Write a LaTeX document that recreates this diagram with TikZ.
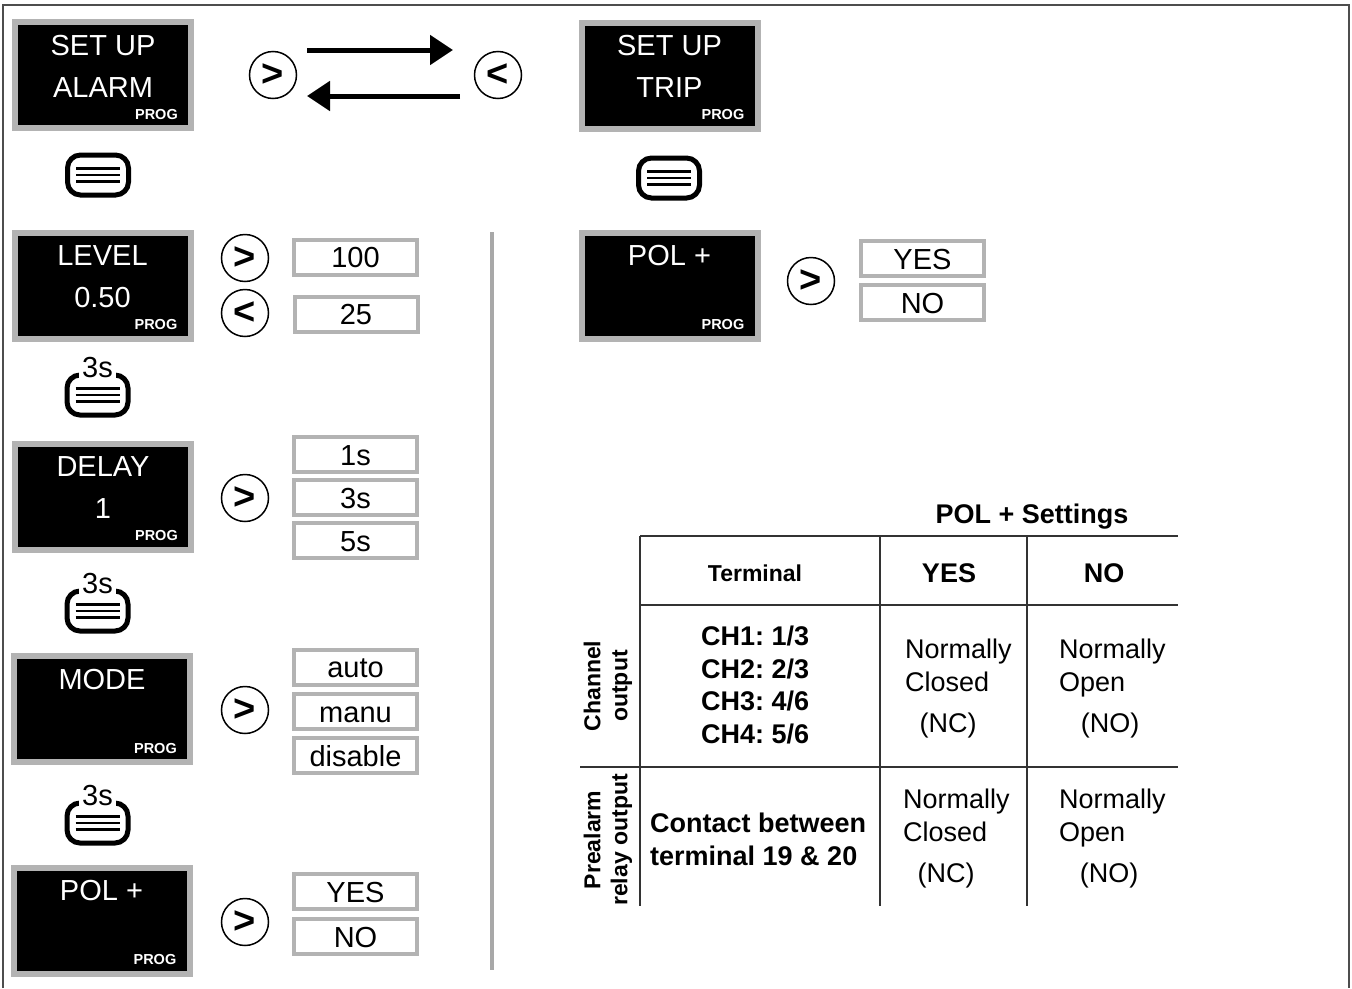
\documentclass[tikz,border=0pt]{standalone}
\usepackage{fontspec}
\setmainfont{Liberation Sans}
\usetikzlibrary{arrows.meta,calc}
\definecolor{boxgray}{HTML}{B3B3B3}
\definecolor{framegray}{HTML}{4D4D4D}
\definecolor{sepgray}{HTML}{A8A8A8}
\definecolor{tabline}{HTML}{333333}
\newcommand{\fs}[1]{\fontsize{#1}{#1}\selectfont}
\frenchspacing

\tikzset{
 disp/.style={rectangle, fill=black, draw=boxgray, line width=6pt, minimum width=176pt, minimum height=106pt, inner sep=0pt, outer sep=0pt},
 dtext/.style={text=white, font=\fs{29}, inner sep=0pt, anchor=base},
 prog/.style={text=white, font=\bfseries\fs{14.5}, inner sep=0pt, anchor=base east},
 valbox/.style={rectangle, draw=boxgray, fill=white, line width=4pt, minimum width=123pt, minimum height=35pt, inner sep=0pt, text height=21pt, text depth=0pt, font=\fs{29}},
 btn/.style={circle, draw=black, line width=1.5pt, minimum size=47pt, inner sep=0pt, font=\bfseries\fs{38}},
 menubtn/.style={rectangle, rounded corners=13pt, draw=black, line width=5pt, minimum width=61pt, minimum height=40pt, inner sep=0pt},
 menuline/.style={draw=black, line width=2.6pt},
 holdtxt/.style={fill=white, inner xsep=3pt, inner ysep=1pt, font=\fs{29}},
 bigarrow/.style={draw=black, line width=5pt, -{Triangle[length=23pt,width=29pt]}},
 frame/.style={draw=framegray, line width=1.6pt},
 sepline/.style={draw=sepgray, line width=4pt},
 tline/.style={draw=tabline, line width=1.5pt},
 ttext/.style={inner sep=0pt, font=\fs{27}},
 tbold/.style={inner sep=0pt, font=\bfseries\fs{27}},
}

\newcommand{\dispnode}[5]{%
 \node[disp] (#1) at (#2,#3) {};
 \node[dtext] (#1-a) at (#2,#3-20) {#4};
 \if\relax\detokenize{#5}\relax\else
 \node[dtext] (#1-b) at (#2,#3+22) {#5};\fi
 \node[prog] (#1-p) at (#2+75,#3+44) {PROG};
}
\newcommand{\menuicon}[3]{%
 \node[menubtn] (#1) at (#2,#3) {};
 \draw[menuline] ($(#1.center)+(-22,-6.5)$) -- ++(44,0);
 \draw[menuline] ($(#1.center)+(-22,0)$) -- ++(44,0);
 \draw[menuline] ($(#1.center)+(-22,6.5)$) -- ++(44,0);
}
\newcommand{\holdicon}[3]{%
 \menuicon{#1}{#2}{#3}
 \node[holdtxt] (#1-t) at (#2,#3-27) {3s};
}

\begin{document}
\begin{tikzpicture}[x=1pt,y=-1pt]
\useasboundingbox (0,0) rectangle (1352,988);
% outer frame
\draw[frame] (3,988) -- (3,5) -- (1349,5) -- (1349,988);

% ---------- top row ----------
\dispnode{alarm}{103}{75}{SET UP}{ALARM}
\dispnode{trip}{669.5}{75.5}{SET UP}{TRIP}
\node[btn] (bnext) at (273,75) {>};
\node[btn] (bprev) at (498,75) {<};
\coordinate (a1s) at (307,50);
\coordinate (a1e) at (453,50);
\coordinate (a2s) at (460,96);
\coordinate (a2e) at (307,96);
\draw[bigarrow] (a1s) -- (a1e);
\draw[bigarrow] (a2s) -- (a2e);
\menuicon{m1}{98}{175}
\menuicon{m2}{669}{178}

% ---------- left column ----------
\dispnode{level}{102.5}{285.5}{LEVEL}{0.50}
\node[btn] (lvup) at (245,258) {>};
\node[btn] (lvdn) at (245,313) {<};
\node[valbox] (v100) at (355.5,257) {100};
\node[valbox] (v25) at (356,314) {25};
\holdicon{h1}{97.5}{395}

\dispnode{delay}{103}{496.5}{DELAY}{1}
\node[btn] (dlb) at (245,498) {>};
\node[valbox] (d1) at (355.5,454.5) {1s};
\node[valbox] (d3) at (355.5,497.5) {3s};
\node[valbox] (d5) at (355.5,540.5) {5s};
\holdicon{h2}{97.5}{611}

\dispnode{mode}{102}{709}{MODE}{}
\node[btn] (mdb) at (245,710) {>};
\node[valbox] (mauto) at (355.5,667) {auto};
\node[valbox] (mmanu) at (355.5,711.5) {manu};
\node[valbox] (mdis) at (355.5,755.5) {disable};
\holdicon{h3}{97.5}{823}

\dispnode{poll}{101.5}{920.5}{POL +}{}
\node[btn] (plb) at (245,922) {>};
\node[valbox] (pyes) at (355.5,891.5) {YES};
\node[valbox] (pno) at (355.5,936.5) {NO};

% separator
\coordinate (s1) at (492,232);
\coordinate (s2) at (492,970);
\draw[sepline] (s1) -- (s2);

% ---------- right column ----------
\dispnode{polr}{669.5}{285.5}{POL +}{}
\node[btn] (prb) at (811,281) {>};
\node[valbox] (ryes) at (922.5,258.5) {YES};
\node[valbox] (rno) at (922.5,302.5) {NO};

% ---------- table ----------
\node[tbold, anchor=base] (ttitle) at (1032,523) {POL + Settings};
\draw[tline] (640,536) -- (1178,536);
\draw[tline] (640,605) -- (1178,605);
\draw[tline] (580,767) -- (1178,767);
\draw[tline] (640,536) -- (640,906);
\draw[tline] (880,536) -- (880,906);
\draw[tline] (1027,536) -- (1027,906);

\node[inner sep=0pt, font=\bfseries\fs{23}, anchor=base] (hterm) at (755,581) {Terminal};
\node[tbold, anchor=base] (hyes) at (949,582) {YES};
\node[tbold, anchor=base] (hno) at (1104,582) {NO};

\node[inner sep=0pt, font=\bfseries\fs{23}, rotate=90, align=center] (rch) at (608,686) {Channel\\[4pt]output};
\node[inner sep=0pt, font=\bfseries\fs{23}, rotate=90, align=center] (rpre) at (608,840) {Prealarm\\[4pt]relay output};

\node[tbold, anchor=base west] (ch1) at (701,645) {CH1: 1/3};
\node[tbold, anchor=base west] (ch2) at (701,678) {CH2: 2/3};
\node[tbold, anchor=base west] (ch3) at (701,710) {CH3: 4/6};
\node[tbold, anchor=base west] (ch4) at (701,743) {CH4: 5/6};

\node[ttext, anchor=base west] (y1a) at (905,658) {Normally};
\node[ttext, anchor=base west] (y1b) at (905,691) {Closed};
\node[ttext, anchor=base] (y1c) at (948,732) {(NC)};
\node[ttext, anchor=base west] (n1a) at (1059,658) {Normally};
\node[ttext, anchor=base west] (n1b) at (1059,691) {Open};
\node[ttext, anchor=base] (n1c) at (1110,732) {(NO)};

\node[tbold, anchor=base west] (c2a) at (650,832) {Contact between};
\node[tbold, anchor=base west] (c2b) at (650,865) {terminal 19 \& 20};

\node[ttext, anchor=base west] (y2a) at (903,808) {Normally};
\node[ttext, anchor=base west] (y2b) at (903,841) {Closed};
\node[ttext, anchor=base] (y2c) at (946,882) {(NC)};
\node[ttext, anchor=base west] (n2a) at (1059,808) {Normally};
\node[ttext, anchor=base west] (n2b) at (1059,841) {Open};
\node[ttext, anchor=base] (n2c) at (1109,882) {(NO)};
\end{tikzpicture}
\end{document}
